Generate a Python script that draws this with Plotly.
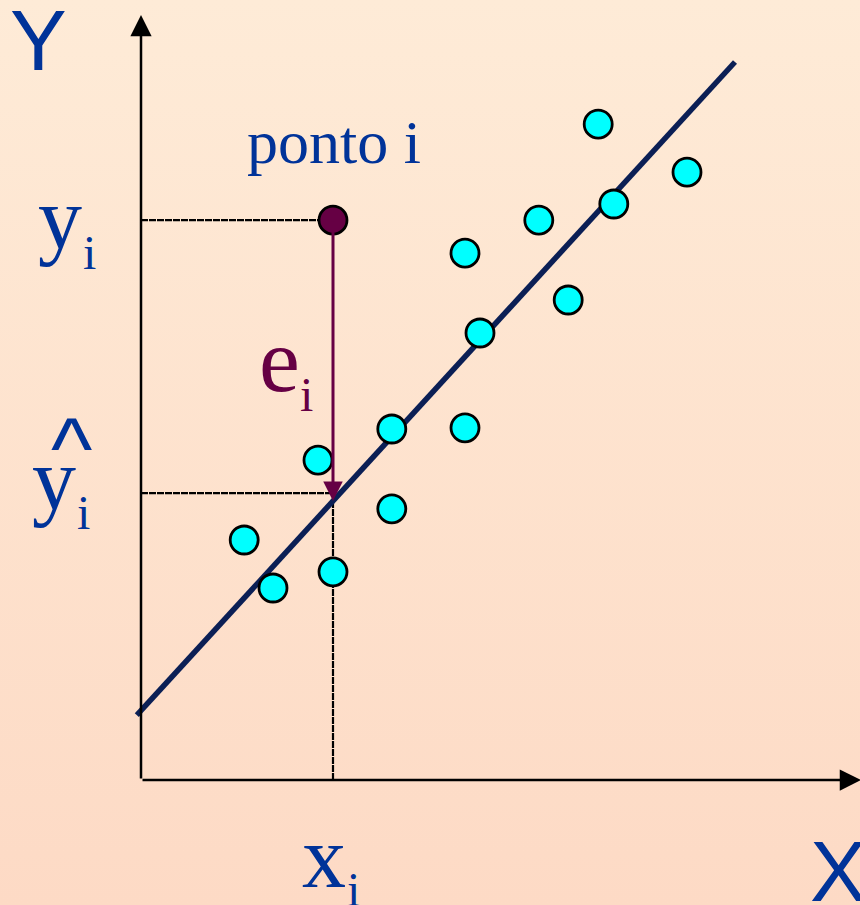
import plotly.graph_objects as go

# ---------------- data ----------------
pts_x = [7.62, 9.10, 7.88, 6.63, 5.40, 7.12, 5.65, 4.18, 5.40, 2.95, 4.18, 1.72, 2.20, 3.20]
pts_y = [10.93, 10.13, 9.60, 9.33, 8.78, 8.00, 7.45, 5.85, 5.87, 5.33, 4.52, 4.00, 3.20, 3.47]

x_i = 3.20
y_i = 9.33
y_hat_guide = 4.78

b0 = 1.156          # intercept of fitted line
b1 = 1.092          # slope of fitted line
line_x = [-0.07, 9.90]

x_axis_end = 12.0
y_axis_end = 12.75

# ---------------- layout helpers ----------------
W, H = 860, 905
OX, OY = 141, 780     # pixel position of origin
U = 60.0              # pixels per data unit
XR = [-OX / U, (W - OX) / U]
YR = [-(H - OY) / U, OY / U]


def px(x):
    return (x - OX) / U


def py(y):
    return (OY - y) / U


BLUE = "#003399"
MAROON = "#660044"
NAVY = "#0B1F55"

fig = go.Figure()

# background gradient
fig.add_trace(go.Scatter(
    x=[XR[0], XR[1], XR[1], XR[0], XR[0]],
    y=[YR[0], YR[0], YR[1], YR[1], YR[0]],
    mode="lines", line=dict(width=0), fill="toself",
    fillgradient=dict(type="vertical",
                      colorscale=[[0, "#FDDAC5"], [1, "#FEEBD7"]]),
    hoverinfo="skip", showlegend=False))

# guide lines (dashed)
guide = dict(color="black", width=2.2, dash="7px,1px")
fig.add_trace(go.Scatter(x=[0, x_i], y=[y_i, y_i], mode="lines", line=guide,
                         hoverinfo="skip", showlegend=False))
fig.add_trace(go.Scatter(x=[0, x_i], y=[y_hat_guide, y_hat_guide], mode="lines",
                         line=guide, hoverinfo="skip", showlegend=False))
y_hat = b0 + b1 * x_i
fig.add_trace(go.Scatter(x=[x_i, x_i], y=[0, y_hat], mode="lines", line=guide,
                         hoverinfo="skip", showlegend=False))

# regression line
fig.add_trace(go.Scatter(x=line_x, y=[b0 + b1 * v for v in line_x], mode="lines",
                         line=dict(color=NAVY, width=5.5),
                         hoverinfo="skip", showlegend=False))

# data points
fig.add_trace(go.Scatter(x=pts_x, y=pts_y, mode="markers",
                         marker=dict(size=28, color="#00FFFF",
                                     line=dict(color="black", width=2.8)),
                         showlegend=False))

annotations = []
# residual arrow
annotations.append(dict(x=x_i, y=y_hat, ax=x_i, ay=y_i, xref="x", yref="y",
                        axref="x", ayref="y", showarrow=True, arrowhead=2,
                        arrowsize=1.3, arrowwidth=3, arrowcolor=MAROON,
                        standoff=0, text=""))

# point i
fig.add_trace(go.Scatter(x=[x_i], y=[y_i], mode="markers",
                         marker=dict(size=28, color=MAROON,
                                     line=dict(color="black", width=2.8)),
                         showlegend=False))

# axes with arrows
annotations.append(dict(x=x_axis_end, y=0, ax=0, ay=0, xref="x", yref="y",
                        axref="x", ayref="y", showarrow=True, arrowhead=2,
                        arrowsize=1.7, arrowwidth=2.5, arrowcolor="black",
                        standoff=0, text=""))
annotations.append(dict(x=0, y=y_axis_end, ax=0, ay=0, xref="x", yref="y",
                        axref="x", ayref="y", showarrow=True, arrowhead=2,
                        arrowsize=1.7, arrowwidth=2.5, arrowcolor="black",
                        standoff=0, text=""))


def label(text, xc, yc, size, family, color):
    annotations.append(dict(x=px(xc), y=py(yc), xref="x", yref="y", text=text,
                            showarrow=False, xanchor="center", yanchor="middle",
                            font=dict(size=size, family=family, color=color)))


SANS = "Liberation Sans, Arial, sans-serif"
SERIF = "Liberation Serif, Times New Roman, serif"

label("Y", 38, 40, 85, SANS, BLUE)
label("X", 838, 871, 85, SANS, BLUE)
label("ponto i", 334, 142, 62, SERIF, BLUE)
label("y", 60, 218, 88, SERIF, BLUE)
label("i", 89, 252, 48, SERIF, BLUE)
label("^", 71, 448, 88, SANS, BLUE)
label("y", 54, 479, 88, SERIF, BLUE)
label("i", 83, 512, 48, SERIF, BLUE)
label("e", 279, 360, 92, SERIF, MAROON)
label("i", 306, 394, 48, SERIF, MAROON)
label("x", 324, 857, 88, SERIF, BLUE)
label("i", 353, 889, 48, SERIF, BLUE)

fig.update_layout(
    width=W, height=H,
    margin=dict(l=0, r=0, t=0, b=0),
    paper_bgcolor="#FEE3CE", plot_bgcolor="#FEE3CE",
    xaxis=dict(range=XR, visible=False, fixedrange=True),
    yaxis=dict(range=YR, visible=False, fixedrange=True),
    annotations=annotations,
    showlegend=False,
)

fig.write_html(
    "out.html",
    config={"displayModeBar": False},
    post_script="document.body.style.margin='0';document.body.style.overflow='hidden';",
)
